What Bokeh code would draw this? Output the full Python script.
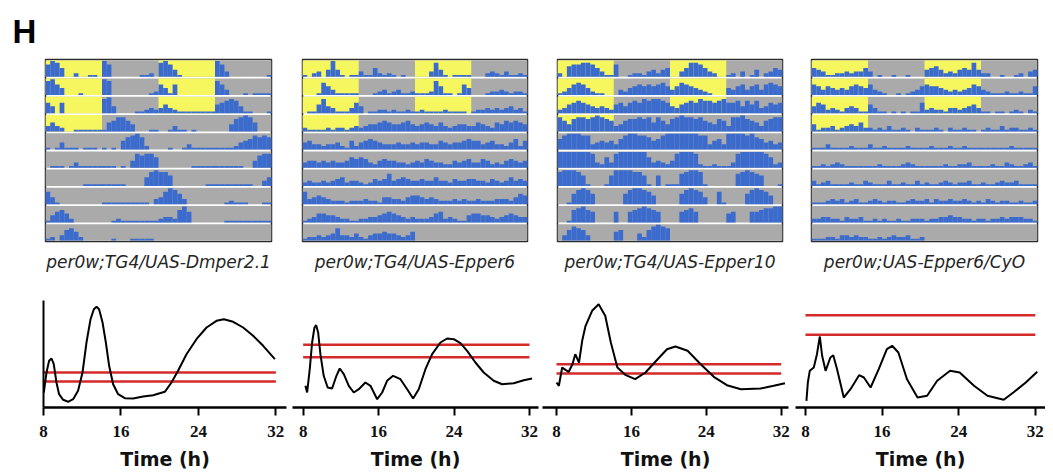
from bokeh.plotting import figure
from bokeh.layouts import row, column
from bokeh.models import Range1d, FixedTicker, Title
from bokeh.embed import file_html
from bokeh.resources import INLINE

PANEL_LETTER = "H"
GENOTYPES = ["per0w;TG4/UAS-Dmper2.1", "per0w;TG4/UAS-Epper6",
             "per0w;TG4/UAS-Epper10", "per0w;UAS-Epper6/CyO"]

# ---- actogram data: one string per row (double plotted, 48 h, 1 h bins, 0-9 activity) ----
HOURS_PER_ROW = 48
LIGHT_ON, LIGHT_OFF = 0, 12
LD_ROWS_LEFT, LD_ROWS_RIGHT = 4, 3

ACT_DMPER21 = [
    "798500 200110 970000 001120 897410 000000 973000 000001",
    "896400 010000 980000 000012 641600 000000 863000 101111",
    "640600 000000 894000 011232 353211 111111 567874 110001",
    "353200 111111 156886 400011 001311 010000 000478 985000",
    "101411 101110 101057 897200 001001 311111 111124 568787",
    "011101 311111 111010 487886 000000 011111 111111 004788",
    "000000 001111 111110 000589 886000 000011 111111 110035",
    "741000 000000 111111 111103 479863 000000 001211 100011",
    "146752 000000 001211 111111 233279 600000 001111 111111",
    "120367 520000 001000 111110",
]
ACT_EPPER6 = [
    "102304 941011 311521 210100 000384 101111 000232 131121",
    "000175 311111 000123 123112 111285 110164 000122 321221",
    "011584 311136 401122 121121 121111 211110 122323 234231",
    "211112 122123 234456 544564 345435 323443 354325 465654",
    "453323 342152 456543 334334 344335 434456 553453 324625",
    "344343 433465 653245 443323 435433 224345 335423 245434",
    "232232 345233 212434 734543 343353 324334 433243 235343",
    "734543 222122 232214 433245 543432 223232 232223 332465",
    "123554 432211 223345 654323 222356 232114 554432 345433",
    "122323 473324 213445 443235",
]
ACT_EPPER10 = [
    "206778 875311 700122 134245 003588 753200 120301 402354",
    "124676 421100 032456 565675 357654 321000 435635 636765",
    "235676 543432 564676 878876 435676 877678 667475 734656",
    "864788 789876 346778 785864 789887 865476 388976 536788",
    "689998 834545 368998 875689 999999 883563 999989 764534",
    "999999 983263 899999 963432 489998 211211 138999 998623",
    "899986 100016 999988 610601 117899 810000 007898 760001",
    "001689 860000 006899 875000 006898 740071 000068 987500",
    "001789 760000 600678 987600 006786 000000 560006 678899",
    "036876 300000 560004 268987",
]
ACT_CYO = [
    "543112 232335 301001 001000 456423 245484 220010 012034",
    "653543 435654 632100 101235 655432 323465 321112 112115",
    "465232 134311 531101 010116 232213 323453 110110 121021",
    "412231 234352 212131 121021 112102 112110 121131 221121",
    "111311 112111 311211 112111 121112 112111 111111 211111",
    "112123 211111 112111 123211 111121 122311 112113 211231",
    "312311 112113 211131 121131 211232 122311 211232 231111",
    "111232 312311 232122 112322 313223 223212 132122 112112",
    "223322 132231 121211 211222 122334 332212 212232 333221",
    "111221 332322 112123 223112",
]
ACTOGRAMS = [ACT_DMPER21, ACT_EPPER6, ACT_EPPER10, ACT_CYO]

# ---- periodogram data ----
PERIOD_TICKS = [8, 16, 24, 32]
P1_HOURS = [8.03, 8.31, 8.58, 8.83, 9.06, 9.34, 9.61, 10.03, 10.54, 11.06, 11.57, 12.03, 12.44,
            12.86, 13.2, 13.48, 13.74, 14.1, 14.44, 14.78, 15.19, 15.71, 16.4, 17.26, 18.29, 19.32,
            20.53, 21.22, 21.9, 22.77, 23.8, 24.84, 25.87, 26.63, 27.59, 28.62, 29.65, 30.69, 31.9]
P1_POWER = [15, 35, 46.7, 49, 43.3, 25, 13.3, 7.7, 5.7, 8.3, 16.7, 35, 65, 88.3, 98.3, 100.7,
            98.3, 85, 65, 41.7, 23.3, 13.3, 9.3, 9, 11, 12.3, 15.7, 25, 36.7, 53.3, 68.3, 80, 86.7,
            88.3, 85.7, 80, 71.7, 61.7, 48.3]
P2_HOURS = [8.24, 8.42, 8.7, 8.95, 9.2, 9.38, 9.59, 9.83, 10.18, 10.6, 11.07, 11.53, 11.88, 12.31,
            12.84, 13.37, 13.9, 14.6, 15.14, 15.85, 16.38, 16.9, 17.54, 18.32, 19.03, 19.66, 20.26,
            20.97, 21.68, 22.56, 23.27, 23.97, 24.68, 25.39, 26.27, 27.15, 28.21, 29.1, 30.33,
            31.4, 32.28]
P2_POWER = [21.7, 15, 38.3, 65, 80, 82.3, 75, 53.3, 31.7, 20, 19, 31.7, 39, 33.3, 21.7, 15, 18.3,
            25, 21.7, 8.3, 15, 26.7, 31.7, 28.3, 18.3, 9, 18.3, 38.3, 53.3, 65, 69, 68.3, 64.3,
            56.7, 45, 35, 26.7, 23.3, 24.3, 27.3, 29]
P3_HOURS = [8.0, 8.25, 8.6, 8.96, 9.3, 9.7, 10.0, 10.4, 10.74, 11.1, 11.8, 12.5, 13.2, 13.8, 14.5,
            15.4, 16.4, 17.5, 18.8, 19.8, 20.7, 22.0, 23.4, 24.8, 26.2, 27.7, 29.8, 31.2, 32.4]
P3_POWER = [25, 21.7, 40, 37.7, 35.7, 43.3, 53.3, 45, 66.7, 81.7, 96.7, 103.3, 91.7, 65, 40,
            32.3, 28.3, 35, 48.3, 58.3, 61, 56.7, 43.3, 30.7, 22.3, 18.3, 19, 21.7, 24.3]
P4_HOURS = [8.1, 8.25, 8.45, 8.87, 9.2, 9.5, 9.74, 10.1, 10.6, 10.9, 11.3, 12.0, 12.7, 13.6, 14.1,
            14.8, 15.65, 16.5, 17.05, 17.7, 18.6, 19.7, 20.7, 21.75, 23.1, 24.1, 25.6, 27.0, 28.7,
            29.7, 31.0, 32.2]
P4_POWER = [6.7, 25, 36.7, 40, 53.3, 71, 51.7, 36.7, 50, 52.3, 38.3, 10, 18.3, 32.3, 30, 20,
            38.3, 58.3, 61.7, 55, 28.3, 10, 11.7, 26.7, 36.7, 35, 21.7, 11.7, 7.7, 15, 25, 35.7]
SIG_UPPER = [35, 62.7, 43.3, 92.3]
SIG_LOWER = [26, 50.3, 34, 72.7]
CURVES = [(P1_HOURS, P1_POWER), (P2_HOURS, P2_POWER), (P3_HOURS, P3_POWER), (P4_HOURS, P4_POWER)]

# ---- styling / layout ----
GRAY, BLUE, YELLOW, RED = "#aaaaaa", "#3b6bcd", "#f6f65e", "#d42a2a"
ACT_FRAMES = [(226, 45, 15), (225, 16, 15), (225, 15, 14), (226, 15, 8)]
PER_FRAMES = [(243, 43, 3), (246, 3, 2), (246, 2, 3), (250, 4, 0)]
PER_XRANGES = [(8.0, 33.1), (6.87, 32.96), (6.5, 32.78), (6.96, 33.06)]
XLABEL_OFFSETS = [10, 11, 8, 13]


def digits(s):
    return [int(c) for c in s.replace(" ", "")]


def actogram(rows, label, frame, letter=None):
    fw, bl, br = frame
    n = len(rows)
    p = figure(title=None, frame_width=fw, frame_height=182,
               x_range=Range1d(0, HOURS_PER_ROW), y_range=Range1d(n, 0),
               output_backend="svg", toolbar_location=None,
               min_border_left=bl, min_border_right=br, min_border_top=57, min_border_bottom=46)
    p.axis.visible = False
    p.grid.visible = False
    p.outline_line_color = "#2b2b2b"
    p.outline_line_width = 1.5
    gap = 0.05
    idx = list(range(n))
    p.quad(left=[0] * n, right=[HOURS_PER_ROW] * n, top=[i + gap for i in idx],
           bottom=[i + 1 - gap for i in idx], fill_color=GRAY, line_color=None)
    li = list(range(LD_ROWS_LEFT))
    p.quad(left=[LIGHT_ON] * len(li), right=[LIGHT_OFF] * len(li), top=[i + gap for i in li],
           bottom=[i + 1 - gap for i in li], fill_color=YELLOW, line_color=None)
    ri = list(range(LD_ROWS_RIGHT))
    p.quad(left=[LIGHT_ON + 24] * len(ri), right=[LIGHT_OFF + 24] * len(ri),
           top=[i + gap for i in ri], bottom=[i + 1 - gap for i in ri],
           fill_color=YELLOW, line_color=None)
    L, R, T, B = [], [], [], []
    for i, s in enumerate(rows):
        for k, d in enumerate(digits(s)):
            if d:
                L.append(k); R.append(k + 1)
                B.append(i + 1 - gap)
                T.append(i + 1 - gap - d / 9 * (1 - 2 * gap - 0.03))
    p.quad(left=L, right=R, top=T, bottom=B, fill_color=BLUE, line_color=None)
    p.add_layout(Title(text=label, align="center", text_font="DejaVu Sans",
                       text_font_style="italic", text_font_size="17px",
                       text_color="#262626", standoff=17), "below")
    if letter:
        p.add_layout(Title(text=letter, align="left", offset=-33, text_font="Liberation Sans",
                           text_font_style="bold", text_font_size="33px",
                           text_color="black", standoff=20), "above")
    return p


def periodogram(hours, power, lo, hi, frame, xr, off, show_y):
    fw, bl, br = frame
    p = figure(title=None, frame_width=fw, frame_height=107,
               x_range=Range1d(*xr), y_range=Range1d(0, 107),
               output_backend="svg", toolbar_location=None,
               min_border_left=bl, min_border_right=br, min_border_top=13, min_border_bottom=61)
    p.grid.visible = False
    p.outline_line_color = None
    xa = p.xaxis[0]
    xa.ticker = FixedTicker(ticks=PERIOD_TICKS)
    xa.axis_line_width = 2.5
    xa.axis_line_color = "black"
    xa.major_tick_in = 0
    xa.major_tick_out = 8
    xa.major_tick_line_width = 2
    xa.minor_tick_line_color = None
    xa.major_label_standoff = 10
    xa.major_label_text_font = "Liberation Serif"
    xa.major_label_text_font_style = "bold"
    xa.major_label_text_font_size = "17px"
    xa.major_label_text_color = "#111111"
    ya = p.yaxis[0]
    if show_y:
        ya.ticker = FixedTicker(ticks=[])
        ya.axis_line_width = 2
        ya.major_tick_line_color = None
        ya.minor_tick_line_color = None
        ya.major_label_standoff = 0
    else:
        ya.visible = False
    x0, x1 = PERIOD_TICKS[0], PERIOD_TICKS[-1]
    p.segment(x0=[x0, x0], x1=[x1, x1], y0=[lo, hi], y1=[lo, hi], line_color=RED, line_width=2.5)
    p.line(hours, power, line_color="black", line_width=2)
    p.add_layout(Title(text="Time (h)", align="center", offset=off, text_font="DejaVu Sans",
                       text_font_style="bold", text_font_size="19px", text_color="#111111",
                       standoff=12), "below")
    return p


acts = [actogram(ACTOGRAMS[i], GENOTYPES[i], ACT_FRAMES[i], PANEL_LETTER if i == 0 else None)
        for i in range(4)]
pers = [periodogram(CURVES[i][0], CURVES[i][1], SIG_LOWER[i], SIG_UPPER[i], PER_FRAMES[i],
                    PER_XRANGES[i], XLABEL_OFFSETS[i], i == 0) for i in range(4)]

layout = column(row(*acts), row(*pers))
open("out.html", "w").write(file_html(layout, INLINE))
